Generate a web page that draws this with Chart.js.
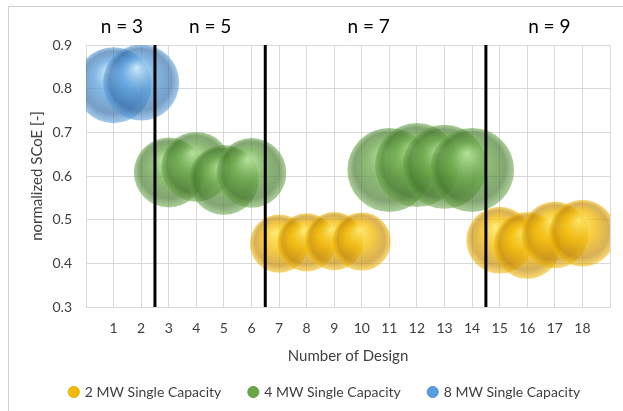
<!DOCTYPE html>
<html>
<head>
<meta charset="utf-8">
<script src="https://cdn.jsdelivr.net/npm/chart.js@4.4.1/dist/chart.umd.min.js"></script>
<style>
    html, body { margin: 0; padding: 0; background: #fff; }
    #wrap { position: relative; width: 623px; height: 411px; }
    #frame { position: absolute; left: 8px; top: 6px; right: 0; bottom: 0;
             border-top: 1px solid #d0d0d0; border-left: 1px solid #d0d0d0; pointer-events: none; }
    canvas { position: absolute; left: 0; top: 0; }
</style>
</head>
<body>
<div id="wrap">
    <canvas id="chart" width="623" height="411"></canvas>
    <div id="frame"></div>
</div>
<script>
// данные
const yellowDesign = [7, 8, 9, 10, 15, 16, 17, 18];
const yellowScoe   = [0.445, 0.448, 0.451, 0.450, 0.453, 0.441, 0.465, 0.469];
const yellowSize   = [0.48, 0.48, 0.48, 0.48, 0.63, 0.63, 0.63, 0.63];

const greenDesign = [3, 4, 5, 6, 11, 12, 13, 14];
const greenScoe   = [0.608, 0.621, 0.591, 0.607, 0.614, 0.625, 0.621, 0.614];
const greenSize   = [0.69, 0.69, 0.69, 0.69, 1.0, 1.0, 1.0, 1.0];

const blueDesign = [1, 2];
const blueScoe   = [0.808, 0.814];
const blueSize   = [0.82, 0.82];

const seriesNames = ["2 MW Single Capacity", "4 MW Single Capacity", "8 MW Single Capacity"];

// границы групп и подписи n
const groupBorders = [2.5, 6.5, 14.5];
const groupLabels = ["n = 3", "n = 5", "n = 7", "n = 9"];
const groupLabelAt = [1.3, 4.5, 10.25, 16.8];

const yTicks = [0.3, 0.4, 0.5, 0.6, 0.7, 0.8, 0.9];

const MAX_R = 42; // радиус самого большого пузыря, px

const FONT = "Lato, 'Open Sans', sans-serif";

const palettes = {
    yellow: { hi: [255, 236, 110], body: [244, 186, 0], edge: [196, 136, 0] },
    green:  { hi: [186, 232, 160], body: [104, 166, 70], edge: [66, 118, 42] },
    blue:   { hi: [214, 240, 255], body: [88, 158, 220], edge: [50, 108, 168] }
};

function rgba(c, a) {
    return `rgba(${c[0]},${c[1]},${c[2]},${a})`;
}

function toPoints(xs, ys, sizes) {
    return xs.map((x, i) => ({ x: x, y: ys[i], r: MAX_R * Math.sqrt(sizes[i]) }));
}

// глянцевый шар через радиальный градиент
function sphere(p) {
    return function (ctx) {
        const chart = ctx.chart;
        if (ctx.type !== "data" || !ctx.raw || !chart.scales.x || !chart.scales.y) return rgba(p.body, 0.8);
        const px = chart.scales.x.getPixelForValue(ctx.raw.x);
        const py = chart.scales.y.getPixelForValue(ctx.raw.y);
        const r = ctx.raw.r;
        if (!Number.isFinite(px) || !Number.isFinite(py) || !Number.isFinite(r)) return rgba(p.body, 0.8);
        const g = chart.ctx.createRadialGradient(px - 0.12 * r, py - 0.4 * r, 0, px, py, r);
        g.addColorStop(0, rgba(p.hi, 0.9));
        g.addColorStop(0.45, rgba(p.body, 0.74));
        g.addColorStop(0.82, rgba(p.edge, 0.66));
        g.addColorStop(1, rgba(p.body, 0.55));
        return g;
    };
}

const borderDatasets = groupBorders.map(b => ({
    type: "line",
    label: "border",
    data: [{ x: b, y: 0.3 }, { x: b, y: 0.9 }],
    borderColor: "#000",
    borderWidth: 3,
    pointRadius: 0,
    order: 0
}));

const groupLabelPlugin = {
    id: "groupLabels",
    afterDraw(chart) {
        const c = chart.ctx;
        c.save();
        c.font = `19px ${FONT}`;
        c.fillStyle = "#000";
        c.textAlign = "center";
        c.textBaseline = "middle";
        groupLabels.forEach((t, i) => {
            c.fillText(t, chart.scales.x.getPixelForValue(groupLabelAt[i]), chart.chartArea.top - 18);
        });
        c.restore();
    }
};

const solidColors = [palettes.yellow, palettes.green, palettes.blue];

new Chart(document.getElementById("chart"), {
    type: "bubble",
    data: {
        datasets: [
            { label: seriesNames[0], data: toPoints(yellowDesign, yellowScoe, yellowSize),
              backgroundColor: sphere(palettes.yellow), borderWidth: 0, clip: 0, order: 3 },
            { label: seriesNames[1], data: toPoints(greenDesign, greenScoe, greenSize),
              backgroundColor: sphere(palettes.green), borderWidth: 0, clip: 0, order: 2 },
            { label: seriesNames[2], data: toPoints(blueDesign, blueScoe, blueSize),
              backgroundColor: sphere(palettes.blue), borderWidth: 0, clip: 0, order: 1 },
            ...borderDatasets
        ]
    },
    options: {
        responsive: false,
        animation: false,
        devicePixelRatio: 1,
        layout: { autoPadding: false, padding: { top: 45, right: 9, left: 36, bottom: 2 } },
        scales: {
            x: {
                type: "linear",
                min: 0, max: 19,
                afterFit: s => { s.height = 411 - 307 - 2 - (s.chart.legend ? s.chart.legend.height : 0); },
                ticks: {
                    stepSize: 1,
                    padding: 13,
                    color: "#404040",
                    font: { family: FONT, size: 14 },
                    callback: v => (v >= 1 && v <= 18 ? String(v) : "")
                },
                grid: { color: "#d9d9d9", drawTicks: false },
                border: { color: "#d9d9d9" },
                title: { display: true, text: "Number of Design", color: "#404040",
                         font: { family: FONT, size: 15 }, padding: { top: 4, bottom: -8 } }
            },
            y: {
                min: 0.3, max: 0.9,
                afterFit: s => { s.width = 50; },
                afterBuildTicks: s => { s.ticks = yTicks.map(v => ({ value: v })); },
                ticks: {
                    padding: 14,
                    color: "#404040",
                    font: { family: FONT, size: 14 },
                    callback: v => v.toFixed(1)
                },
                grid: { color: "#d9d9d9", drawTicks: false },
                border: { color: "#d9d9d9" },
                title: { display: true, text: "normalized SCoE [-]", color: "#404040",
                         font: { family: FONT, size: 15 }, padding: { top: -8, bottom: 4 } }
            }
        },
        plugins: {
            tooltip: { enabled: false },
            legend: {
                position: "bottom",
                labels: {
                    usePointStyle: true,
                    pointStyle: "circle",
                    boxWidth: 8,
                    boxHeight: 8,
                    padding: 28,
                    color: "#404040",
                    font: { family: FONT, size: 14 },
                    filter: item => item.text !== "border",
                    sort: (a, b) => a.datasetIndex - b.datasetIndex,
                    generateLabels: chart => {
                        const items = Chart.defaults.plugins.legend.labels.generateLabels(chart);
                        items.forEach(it => {
                            const p = solidColors[it.datasetIndex];
                            if (p) {
                                it.fillStyle = rgba(p.body, 1);
                                it.strokeStyle = rgba(p.edge, 1);
                                it.lineWidth = 0.5;
                            }
                        });
                        return items;
                    }
                }
            }
        }
    },
    plugins: [groupLabelPlugin]
});
</script>
</body>
</html>
